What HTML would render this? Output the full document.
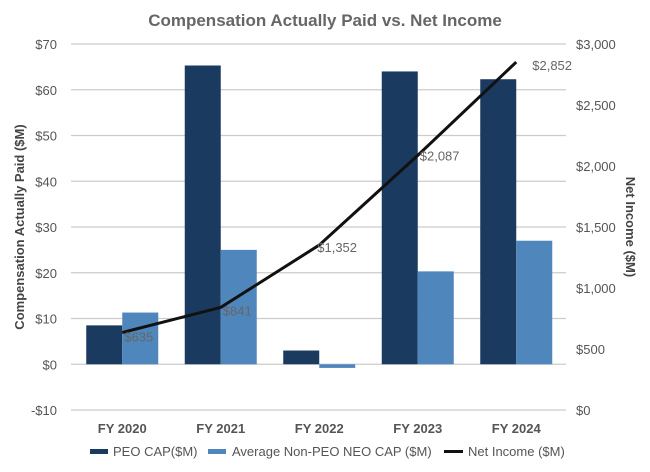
<!DOCTYPE html>
<html><head><meta charset="utf-8"><style>
body{margin:0;background:#fff;}
svg{display:block;font-family:"Liberation Sans",Arial,sans-serif;}
</style></head><body>
<svg id="chart" width="650" height="472">
<text x="325" y="26" text-anchor="middle" font-size="17" font-weight="bold" fill="#666">Compensation Actually Paid vs. Net Income</text>
<g id="grid"></g><g id="bars"></g><g id="line"></g><g id="axes"></g>
<text transform="translate(24,227) rotate(-90)" text-anchor="middle" font-size="13" font-weight="bold" fill="#444">Compensation Actually Paid ($M)</text>
<text transform="translate(626,227) rotate(90)" text-anchor="middle" font-size="13" font-weight="bold" fill="#444">Net Income ($M)</text>
<g>
<rect x="90" y="449" width="18" height="5" fill="#1a3a60"/>
<text x="113" y="456" font-size="13" fill="#555">PEO CAP($M)</text>
<rect x="208" y="449" width="18" height="5" fill="#4f86bb"/>
<text x="232" y="456" font-size="13" fill="#555">Average Non-PEO NEO CAP ($M)</text>
<rect x="444" y="450" width="19" height="3" fill="#111"/>
<text x="468" y="456" font-size="13" fill="#555">Net Income ($M)</text>
</g>
</svg>
<script>
const categories=["FY 2020","FY 2021","FY 2022","FY 2023","FY 2024"];
const peoCap=[8.5,65.3,3,64,62.3];
const avgCap=[11.3,25,-0.8,20.3,27];
const netIncome=[635,841,1352,2087,2852];
const leftTicks=[-10,0,10,20,30,40,50,60,70];
const rightTicks=[0,500,1000,1500,2000,2500,3000];
const NS="http://www.w3.org/2000/svg";
const x0=73,step=98.5,plotTop=44,plotBot=410;
const yL=v=>plotBot-(v+10)/80*(plotBot-plotTop);
const yR=v=>plotBot-v/3000*(plotBot-plotTop);
const cx=i=>x0+step*(i+0.5);
function mk(tag,attrs,parent,txt){const e=document.createElementNS(NS,tag);for(const k in attrs)e.setAttribute(k,attrs[k]);if(txt!==undefined)e.textContent=txt;document.getElementById(parent).appendChild(e);return e;}
leftTicks.forEach(t=>{
 const l=mk('line',{x1:71,x2:566,y1:yL(t),y2:yL(t),stroke:'#ccc','stroke-width':1.3},'grid');
 
 
 const tx=mk('text',{x:57,y:yL(t)+5,'text-anchor':'end','font-size':13,fill:'#555'},'axes',(t<0?'-$'+(-t):'$'+t));
 
 
});
rightTicks.forEach(t=>{
 const tx=mk('text',{x:576,y:yR(t)+5,'font-size':13,fill:'#555'},'axes','$'+t.toLocaleString('en-US'));
 
 
});
categories.forEach((c,i)=>{
 const tx=mk('text',{x:cx(i),y:433,'text-anchor':'middle','font-size':13,'font-weight':'bold',fill:'#555'},'axes',c);
 
 
 const w=36;
 const a=mk('rect',{x:cx(i)-w,y:Math.min(yL(peoCap[i]),yL(0)),width:w,height:Math.abs(yL(peoCap[i])-yL(0)),fill:'#1a3a60'},'bars');
 
 
 const b=mk('rect',{x:cx(i),y:Math.min(yL(avgCap[i]),yL(0)),width:w,height:Math.abs(yL(avgCap[i])-yL(0)),fill:'#4f86bb'},'bars');
 
 
});
const pl=mk('polyline',{points:netIncome.map((v,i)=>cx(i)+','+yR(v)).join(' '),fill:'none',stroke:'#111','stroke-width':3},'line');


const dx=[2,2,-2,2,16], dy=[9,8,7,5,8];
netIncome.forEach((v,i)=>{
 const tx=mk('text',{x:cx(i)+dx[i],y:yR(v)+dy[i],'font-size':13,fill:'#666'},'line','$'+v.toLocaleString('en-US'));
 
 
});
</script>
</body></html>
